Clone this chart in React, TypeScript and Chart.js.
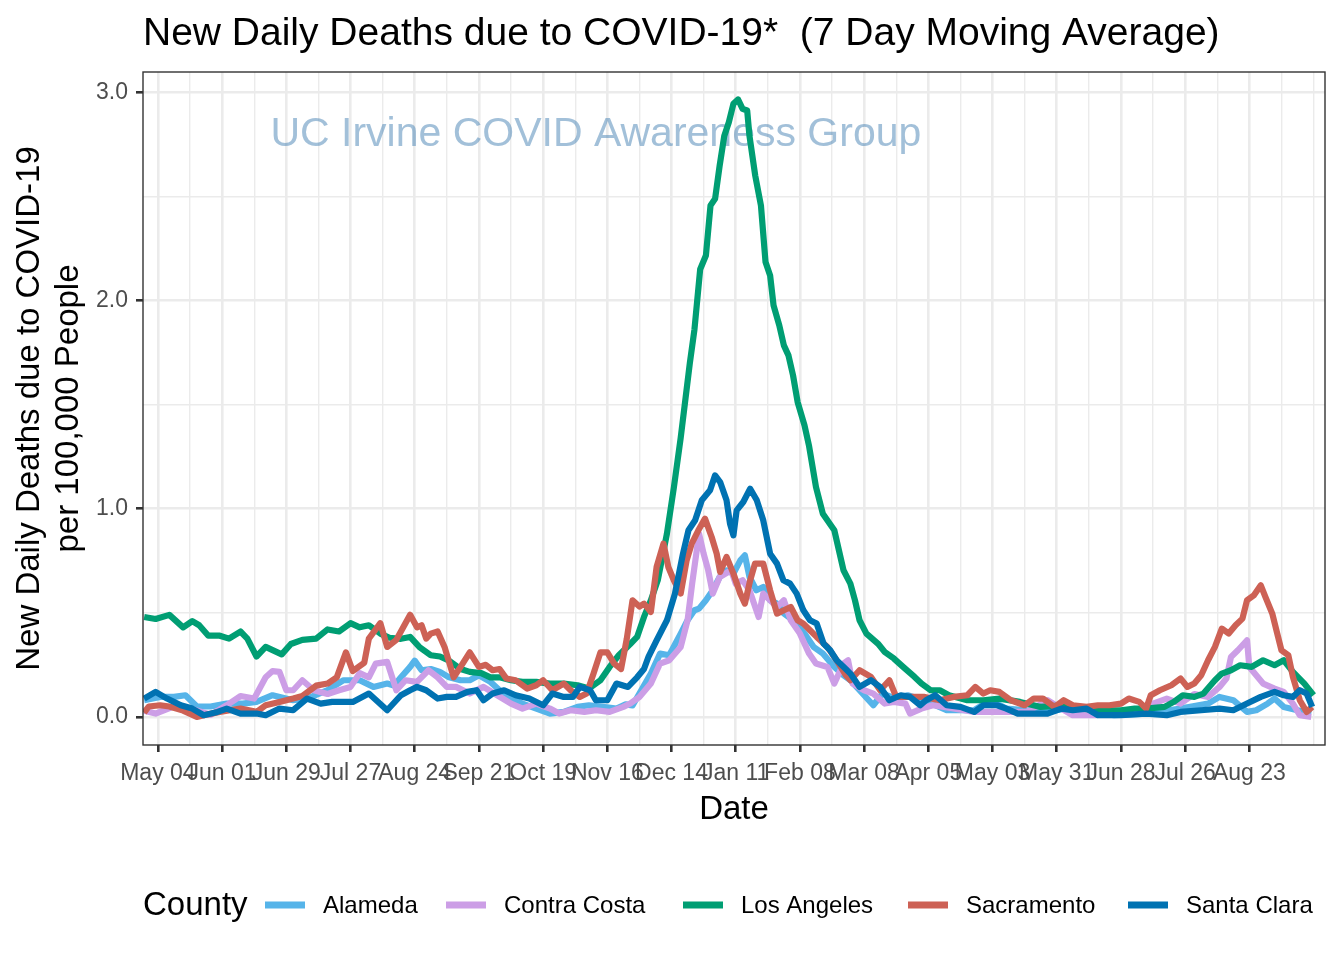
import React, { useEffect, useRef } from "react";
import { Chart, registerables } from "chart.js";

Chart.register(...registerables);

// ---------------- text ----------------
const TITLE = "New Daily Deaths due to COVID-19*  (7 Day Moving Average)";
const WATERMARK = "UC Irvine COVID Awareness Group";
const Y_TITLE = ["New Daily Deaths due to COVID-19", "per 100,000 People"];
const X_TITLE = "Date";
const LEGEND_TITLE = "County";

// ---------------- axes ----------------
// x values are days counted from 2020-05-04 (first labelled tick)
const X_TICK_LABELS = [
  "May 04", "Jun 01", "Jun 29", "Jul 27", "Aug 24", "Sep 21", "Oct 19", "Nov 16", "Dec 14",
  "Jan 11", "Feb 08", "Mar 08", "Apr 05", "May 03", "May 31", "Jun 28", "Jul 26", "Aug 23",
];
const X_TICK_STEP = 28;
const X_MINOR_STEP = 14;
const X_RANGE = [-6.5, 509];
const Y_TICKS = [0, 0.5, 1, 1.5, 2, 2.5, 3];
const Y_RANGE = [-0.135, 3.097];

// ---------------- series ----------------
const COUNTIES = ["Alameda", "Contra Costa", "Los Angeles", "Sacramento", "Santa Clara"];
const COLORS = ["#56B4E9", "#CC9EE6", "#009E73", "#CD6155", "#0072B2"];

// [day, deaths per 100k]
const alameda: [number, number][] = [
  [-6, 0.08], [1, 0.096], [7, 0.096], [12, 0.104], [17, 0.05], [23, 0.05], [30, 0.064], [37, 0.064],
  [43, 0.072], [50, 0.104], [59, 0.08], [65, 0.088], [74, 0.128], [81, 0.176], [88, 0.176], [94, 0.144],
  [100, 0.16], [103, 0.15], [106, 0.19], [110, 0.24], [112, 0.27], [115, 0.224], [119, 0.23], [123, 0.216],
  [127, 0.19], [132, 0.176], [136, 0.176], [140, 0.2], [145, 0.168], [149, 0.128], [154, 0.088], [159, 0.064],
  [165, 0.04], [171, 0.016], [177, 0.024], [183, 0.048], [188, 0.056], [194, 0.048], [200, 0.04], [204, 0.06],
  [207, 0.055], [210, 0.112], [215, 0.208], [219, 0.304], [223, 0.296], [228, 0.4], [231, 0.464], [234, 0.512],
  [236, 0.52], [239, 0.56], [242, 0.608], [245, 0.672], [248, 0.704], [251, 0.688], [254, 0.752], [256, 0.776],
  [258, 0.672], [261, 0.608], [264, 0.624], [267, 0.56], [270, 0.544], [273, 0.496], [277, 0.464], [282, 0.4],
  [286, 0.336], [290, 0.304], [295, 0.24], [299, 0.2], [302, 0.176], [306, 0.128], [312, 0.056], [316, 0.112],
  [322, 0.088], [327, 0.104], [334, 0.08], [344, 0.032], [356, 0.032], [363, 0.08], [370, 0.04], [379, 0.032],
  [388, 0.024], [396, 0.04], [405, 0.024], [417, 0.008], [431, 0.016], [446, 0.04], [458, 0.064], [463, 0.096],
  [469, 0.08], [475, 0.024], [479, 0.032], [484, 0.064], [487, 0.088], [491, 0.048], [497, 0.032], [503, 0.016],
];

const contraCosta: [number, number][] = [
  [-6, 0.03], [-1, 0.016], [7, 0.05], [14, 0.04], [23, 0.01], [30, 0.056], [36, 0.1], [42, 0.088],
  [47, 0.19], [50, 0.22], [53, 0.216], [56, 0.128], [59, 0.128], [63, 0.176], [68, 0.128], [74, 0.11],
  [79, 0.128], [84, 0.144], [88, 0.21], [92, 0.19], [95, 0.256], [100, 0.264], [104, 0.128], [108, 0.176],
  [113, 0.168], [118, 0.224], [122, 0.19], [126, 0.144], [130, 0.144], [136, 0.112], [142, 0.144], [148, 0.104],
  [154, 0.064], [159, 0.04], [165, 0.064], [171, 0.04], [175, 0.016], [180, 0.032], [186, 0.024], [191, 0.032],
  [197, 0.024], [203, 0.048], [206, 0.064], [210, 0.096], [215, 0.16], [219, 0.256], [223, 0.272], [228, 0.336],
  [231, 0.464], [233, 0.64], [235, 0.8], [236, 0.88], [238, 0.784], [240, 0.704], [242, 0.592], [245, 0.672],
  [250, 0.704], [252, 0.64], [255, 0.656], [258, 0.608], [262, 0.48], [264, 0.592], [267, 0.56], [270, 0.528],
  [273, 0.56], [276, 0.464], [280, 0.4], [284, 0.304], [287, 0.256], [292, 0.24], [295, 0.16], [299, 0.256],
  [301, 0.272], [303, 0.16], [308, 0.128], [312, 0.112], [317, 0.064], [321, 0.072], [326, 0.064], [328, 0.016],
  [333, 0.04], [338, 0.056], [347, 0.04], [356, 0.024], [364, 0.024], [370, 0.024], [379, 0.024], [388, 0.08],
  [394, 0.04], [399, 0.008], [408, 0.008], [424, 0.016], [434, 0.064], [440, 0.088], [446, 0.064], [452, 0.11],
  [458, 0.096], [463, 0.144], [466, 0.184], [468, 0.288], [471, 0.32], [475, 0.368], [476, 0.24], [479, 0.2],
  [482, 0.16], [487, 0.136], [491, 0.12], [495, 0.064], [498, 0.008], [503, 0.0],
];

const losAngeles: [number, number][] = [
  [-6, 0.48], [-1, 0.47], [5, 0.49], [11, 0.43], [15, 0.46], [18, 0.44], [22, 0.39], [27, 0.39],
  [31, 0.376], [36, 0.41], [39, 0.376], [43, 0.29], [47, 0.336], [54, 0.3], [58, 0.35], [63, 0.37],
  [69, 0.376], [74, 0.42], [79, 0.41], [84, 0.45], [88, 0.43], [92, 0.44], [97, 0.4], [101, 0.38],
  [106, 0.375], [110, 0.384], [114, 0.336], [119, 0.296], [123, 0.29], [127, 0.27], [132, 0.23], [136, 0.216],
  [141, 0.21], [145, 0.19], [149, 0.19], [154, 0.176], [159, 0.168], [165, 0.168], [171, 0.16], [177, 0.16],
  [183, 0.152], [188, 0.136], [193, 0.176], [197, 0.24], [201, 0.296], [206, 0.35], [209, 0.384], [212, 0.48],
  [215, 0.56], [218, 0.656], [222, 0.88], [225, 1.1], [228, 1.34], [232, 1.7], [234, 1.86], [236.5, 2.15],
  [239, 2.216], [241, 2.456], [243, 2.488], [245, 2.648], [247, 2.79], [249, 2.856], [251, 2.944], [253, 2.965],
  [255, 2.92], [257, 2.912], [258, 2.79], [260.5, 2.6], [263, 2.456], [265, 2.184], [267, 2.12], [268.5, 1.976],
  [271, 1.88], [273, 1.784], [275, 1.736], [277, 1.64], [279, 1.512], [282, 1.4], [284, 1.3], [287, 1.104],
  [290, 0.976], [295, 0.896], [299, 0.704], [302, 0.64], [304, 0.56], [306, 0.464], [309, 0.4], [314, 0.352],
  [317, 0.312], [321, 0.28], [325, 0.24], [330, 0.192], [333, 0.16], [337, 0.128], [341, 0.128], [345, 0.104],
  [353, 0.08], [360, 0.08], [367, 0.088], [376, 0.072], [385, 0.048], [395, 0.055], [402, 0.04], [411, 0.032],
  [420, 0.032], [426, 0.04], [431, 0.04], [439, 0.048], [443, 0.072], [447, 0.104], [452, 0.096], [456, 0.112],
  [461, 0.176], [464, 0.208], [468, 0.224], [472, 0.248], [477, 0.24], [482, 0.272], [487, 0.248], [491, 0.272],
  [495, 0.216], [500, 0.16], [504, 0.104],
];

const sacramento: [number, number][] = [
  [-6, 0.02], [-4, 0.05], [1, 0.056], [5, 0.05], [11, 0.03], [17, 0.0], [21, 0.01], [27, 0.024],
  [36, 0.04], [43, 0.024], [47, 0.056], [53, 0.072], [59, 0.088], [63, 0.1], [69, 0.15], [74, 0.16],
  [78, 0.19], [82, 0.31], [85, 0.22], [90, 0.26], [92, 0.376], [97, 0.45], [100, 0.336], [104, 0.37],
  [107, 0.43], [110, 0.49], [113, 0.43], [115, 0.44], [117, 0.376], [119, 0.4], [122, 0.41], [125, 0.336],
  [129, 0.19], [132, 0.24], [136, 0.31], [140, 0.24], [143, 0.25], [146, 0.224], [149, 0.23], [152, 0.184],
  [156, 0.176], [161, 0.136], [165, 0.152], [168, 0.176], [172, 0.128], [177, 0.16], [180, 0.128], [184, 0.096],
  [187, 0.112], [190, 0.208], [193, 0.31], [196, 0.31], [199, 0.256], [202, 0.23], [204.5, 0.376], [207, 0.56],
  [210, 0.53], [212, 0.544], [215, 0.504], [217.5, 0.72], [220.5, 0.832], [222.6, 0.72], [225, 0.656], [228, 0.592],
  [230.6, 0.752], [232.8, 0.832], [235.7, 0.896], [238.6, 0.952], [241.5, 0.864], [243.7, 0.784], [245.2, 0.696], [248, 0.768],
  [251, 0.688], [254, 0.592], [256, 0.544], [258.3, 0.656], [260.4, 0.736], [264, 0.736], [267, 0.608], [270, 0.496],
  [273, 0.512], [276, 0.528], [279, 0.464], [281.5, 0.448], [284.4, 0.416], [287.3, 0.384], [292, 0.336], [296, 0.272],
  [300, 0.2], [302, 0.176], [306, 0.224], [311, 0.192], [315, 0.128], [319, 0.176], [322, 0.096], [327, 0.096],
  [334, 0.096], [341, 0.08], [347, 0.096], [353, 0.104], [356.5, 0.144], [360, 0.112], [363, 0.128], [367, 0.12],
  [372, 0.08], [378, 0.056], [382, 0.088], [386, 0.088], [391, 0.048], [395, 0.08], [399, 0.056], [405, 0.048],
  [410, 0.056], [415, 0.056], [420, 0.064], [423.4, 0.088], [428, 0.072], [431, 0.04], [433, 0.104], [437, 0.128],
  [442, 0.152], [446, 0.184], [449, 0.144], [452, 0.16], [455, 0.2], [458, 0.272], [461, 0.336], [464, 0.424],
  [467, 0.4], [470, 0.44], [473, 0.472], [475, 0.56], [478, 0.584], [481, 0.632], [483, 0.576], [486, 0.496],
  [488, 0.408], [490, 0.32], [493, 0.296], [495, 0.192], [498, 0.08], [501, 0.024], [503.4, 0.048],
];

const santaClara: [number, number][] = [
  [-6, 0.088], [-1, 0.12], [4, 0.088], [10, 0.056], [15, 0.04], [20, 0.008], [26, 0.024], [30, 0.04],
  [36, 0.016], [43, 0.016], [47, 0.008], [53, 0.04], [59, 0.032], [65, 0.088], [71, 0.064], [76, 0.072],
  [85, 0.072], [92, 0.112], [100, 0.032], [106, 0.104], [110, 0.128], [113, 0.144], [117, 0.128], [122, 0.088],
  [126, 0.096], [130, 0.096], [135, 0.12], [139, 0.128], [142, 0.08], [146, 0.112], [151, 0.128], [156, 0.104],
  [162, 0.088], [168, 0.056], [172, 0.112], [177, 0.096], [181, 0.096], [184, 0.144], [188.5, 0.128], [191, 0.08],
  [196, 0.08], [200, 0.16], [205, 0.144], [209, 0.19], [212, 0.23], [214, 0.29], [217.5, 0.368], [222, 0.464],
  [225.5, 0.592], [229, 0.784], [231.4, 0.896], [234.3, 0.944], [237.2, 1.04], [240.8, 1.088], [243, 1.16], [245.2, 1.128],
  [248, 1.04], [249.5, 0.928], [251, 0.872], [252.4, 0.992], [255.3, 1.032], [258.3, 1.096], [261.2, 1.04], [264, 0.944],
  [267, 0.784], [270, 0.736], [272.8, 0.656], [275.7, 0.64], [278.6, 0.592], [281.5, 0.512], [284.4, 0.464], [287.3, 0.448],
  [290.3, 0.352], [293.2, 0.32], [296, 0.272], [300, 0.23], [302, 0.208], [306, 0.144], [311, 0.176], [315, 0.144],
  [319, 0.08], [324, 0.104], [328, 0.096], [332.5, 0.056], [335, 0.08], [339, 0.104], [344, 0.056], [350, 0.048],
  [356, 0.024], [360, 0.056], [366, 0.056], [370, 0.04], [375, 0.016], [382, 0.016], [388, 0.016], [394, 0.04],
  [399, 0.032], [405, 0.04], [410, 0.008], [420, 0.008], [431, 0.016], [440, 0.008], [446, 0.024], [455, 0.032],
  [463, 0.04], [469, 0.032], [475, 0.064], [481, 0.096], [487, 0.12], [491, 0.104], [495, 0.096], [498, 0.128],
  [501, 0.112], [503.4, 0.048],
];

const SERIES_ROWS = [alameda, contraCosta, losAngeles, sacramento, santaClara];

// watermark anchor in data units
const WATERMARK_AT = { day: 191, value: 2.74 };

// ---------------- style ----------------
const FONT = "'Liberation Sans', Arial, Helvetica, sans-serif";
const TICK_GREY = "#4D4D4D";
const DARK = "#333333";
const GRID = "#EBEBEB";
const LEGEND_KEY_X = [265, 446, 683, 908, 1128];

function isMajorX(v: number | undefined) {
  if (v === undefined) return false;
  const idx = v / X_TICK_STEP;
  return Number.isInteger(idx) && idx >= 0 && idx < X_TICK_LABELS.length;
}
function isMajorY(v: number | undefined) {
  return v !== undefined && Number.isInteger(v);
}

const decorPlugin = {
  id: "decor",
  beforeDatasetsDraw(chart: any) {
    const { ctx, scales } = chart;
    ctx.save();
    ctx.font = `41px ${FONT}`;
    ctx.fillStyle = "rgba(70,130,180,0.5)";
    ctx.textAlign = "center";
    ctx.textBaseline = "alphabetic";
    ctx.fillText(
      WATERMARK,
      scales.x.getPixelForValue(WATERMARK_AT.day),
      scales.y.getPixelForValue(WATERMARK_AT.value)
    );
    ctx.restore();
  },
  afterDatasetsDraw(chart: any) {
    const { ctx, chartArea: a } = chart;
    ctx.save();
    ctx.strokeStyle = DARK;
    ctx.lineWidth = 1.4;
    ctx.strokeRect(a.left, a.top, a.right - a.left, a.bottom - a.top);
    ctx.restore();
  },
  afterDraw(chart: any) {
    const { ctx, chartArea: a } = chart;
    ctx.save();
    ctx.fillStyle = "#000";
    ctx.textAlign = "left";
    ctx.textBaseline = "alphabetic";
    ctx.font = `39px ${FONT}`;
    ctx.fillText(TITLE, a.left, 45);

    // legend
    ctx.font = `33px ${FONT}`;
    ctx.fillText(LEGEND_TITLE, a.left, 915);
    ctx.font = `24px ${FONT}`;
    COUNTIES.forEach((name, i) => {
      const kx = LEGEND_KEY_X[i];
      ctx.strokeStyle = COLORS[i];
      ctx.lineWidth = 7;
      ctx.beginPath();
      ctx.moveTo(kx, 905);
      ctx.lineTo(kx + 40, 905);
      ctx.stroke();
      ctx.fillStyle = "#000";
      ctx.fillText(name, kx + 58, 913);
    });
    ctx.restore();
  },
};

export default function App() {
  const ref = useRef<HTMLCanvasElement | null>(null);

  useEffect(() => {
    if (!ref.current) return;
    const xTicks: number[] = [];
    for (let d = 0; d <= X_RANGE[1]; d += X_MINOR_STEP) xTicks.push(d);

    const chart = new Chart(ref.current, {
      type: "line",
      data: {
        datasets: SERIES_ROWS.map((rows, i) => ({
          label: COUNTIES[i],
          data: rows.map(([d, v]) => ({ x: d, y: v })),
          borderColor: COLORS[i],
          backgroundColor: COLORS[i],
          borderWidth: 6.2,
          pointRadius: 0,
          tension: 0,
          fill: false,
          borderJoinStyle: "round" as const,
          borderCapStyle: "butt" as const,
          order: SERIES_ROWS.length - i,
        })),
      },
      options: {
        responsive: false,
        animation: false,
        devicePixelRatio: 1,
        events: [],
        layout: { padding: { left: 0, top: 72, right: 19, bottom: 130 } },
        plugins: {
          legend: { display: false },
          tooltip: { enabled: false },
          title: { display: false },
        },
        scales: {
          x: {
            type: "linear",
            min: X_RANGE[0],
            max: X_RANGE[1],
            afterFit: (s: any) => {
              s.height = 85;
            },
            afterBuildTicks: (s: any) => {
              s.ticks = xTicks.map((v) => ({ value: v }));
            },
            ticks: {
              autoSkip: false,
              maxRotation: 0,
              minRotation: 0,
              padding: 8,
              color: TICK_GREY,
              font: { family: FONT, size: 23 },
              callback: (v: any) => (isMajorX(v) ? X_TICK_LABELS[v / X_TICK_STEP] : ""),
            },
            grid: {
              color: GRID,
              lineWidth: (c: any) => (isMajorX(c.tick?.value) ? 2.6 : 1.4),
              drawTicks: true,
              tickLength: 7,
              tickWidth: 2.6,
              tickColor: (c: any) => (isMajorX(c.tick?.value) ? DARK : "rgba(0,0,0,0)"),
            },
            border: { display: false },
            title: {
              display: true,
              text: X_TITLE,
              color: "#000",
              font: { family: FONT, size: 33 },
              padding: { top: 0, bottom: 0 },
            },
          },
          y: {
            type: "linear",
            min: Y_RANGE[0],
            max: Y_RANGE[1],
            afterFit: (s: any) => {
              s.width = 143;
            },
            afterBuildTicks: (s: any) => {
              s.ticks = Y_TICKS.map((v) => ({ value: v }));
            },
            ticks: {
              autoSkip: false,
              padding: 8,
              color: TICK_GREY,
              font: { family: FONT, size: 23 },
              callback: (v: any) => (isMajorY(v) ? Number(v).toFixed(1) : ""),
            },
            grid: {
              color: GRID,
              lineWidth: (c: any) => (isMajorY(c.tick?.value) ? 2.6 : 1.4),
              drawTicks: true,
              tickLength: 7,
              tickWidth: 2.6,
              tickColor: (c: any) => (isMajorY(c.tick?.value) ? DARK : "rgba(0,0,0,0)"),
            },
            border: { display: false },
            title: {
              display: true,
              text: Y_TITLE,
              color: "#000",
              font: { family: FONT, size: 33 },
              padding: { top: 10, bottom: 0 },
            },
          },
        },
      },
      plugins: [decorPlugin],
    } as any);

    return () => chart.destroy();
  }, []);

  return (
    <div style={{ position: "absolute", left: 0, top: 0, width: 1344, height: 960, background: "#fff" }}>
      <canvas ref={ref} width={1344} height={960} style={{ display: "block" }} />
    </div>
  );
}
